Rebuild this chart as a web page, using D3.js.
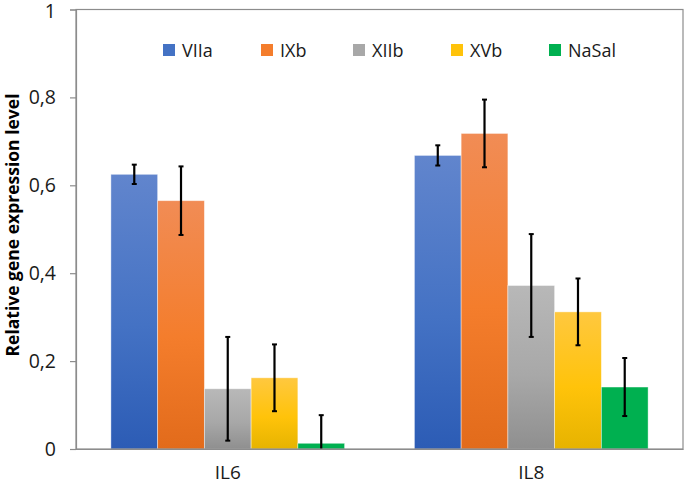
<!DOCTYPE html>
<html><head><meta charset="utf-8">
<script src="https://cdn.jsdelivr.net/npm/d3@7"></script>
<style>body{margin:0;background:#fff}svg{display:block}text{font-family:"Open Sans",sans-serif}</style>
</head><body><svg id="c" width="685" height="486"></svg>
<script>
const categories = ["IL6", "IL8"];
const seriesNames = ["VIIa", "IXb", "XIIb", "XVb", "NaSal"];
const VIIa = [0.625, 0.668];
const IXb = [0.565, 0.718];
const XIIb = [0.137, 0.372];
const XVb = [0.162, 0.312];
const NaSal = [0.013, 0.141];
const errVIIa = [0.022, 0.023];
const errIXb = [0.078, 0.077];
const errXIIb = [0.118, 0.117];
const errXVb = [0.076, 0.076];
const errNaSal = [0.064, 0.066];
const yTicks = [0, 0.2, 0.4, 0.6, 0.8, 1];
const colors = {
  VIIa: ["#6185cd", "#4472c4", "#2c5cb5"],
  IXb: ["#f18c55", "#f47d2c", "#e26b1b"],
  XIIb: ["#b8b8b8", "#a8a8a8", "#8f8f8f"],
  XVb: ["#ffc83f", "#ffc30a", "#e6b300"],
  NaSal: ["#00b050", "#00b050", "#00b050"]
};
const values = {VIIa, IXb, XIIb, XVb, NaSal};
const errs = {VIIa: errVIIa, IXb: errIXb, XIIb: errXIIb, XVb: errXVb, NaSal: errNaSal};

const svg = d3.select("#c");
const L = 76, R = 683, T = 9.5, B = 449;
const y = d3.scaleLinear().domain([0, 1]).range([B, T]);
const x0 = d3.scaleBand().domain(categories).range([L, R]).padding(0);
const step = x0.bandwidth();
const x1 = d3.scaleBand().domain(seriesNames).range([step * 0.115, step * 0.885]).padding(0);

const defs = svg.append("defs");
seriesNames.forEach(s => {
  const g = defs.append("linearGradient").attr("id", "g_" + s).attr("x1", 0).attr("y1", 0).attr("x2", 0).attr("y2", 1);
  g.append("stop").attr("offset", "0%").attr("stop-color", colors[s][0]);
  g.append("stop").attr("offset", "55%").attr("stop-color", colors[s][1]);
  g.append("stop").attr("offset", "100%").attr("stop-color", colors[s][2]);
});

// bars
const groups = svg.selectAll("g.cat").data(categories).enter().append("g")
  .attr("transform", d => `translate(${x0(d)},0)`);
groups.each(function(c, ci) {
  const g = d3.select(this);
  seriesNames.forEach(s => {
    const v = values[s][ci];
    g.append("rect").attr("x", x1(s)).attr("width", x1.bandwidth())
      .attr("y", y(v)).attr("height", y(0) - y(v))
      .attr("fill", `url(#g_${s})`).attr("stroke", "rgba(255,255,255,0.5)").attr("stroke-width", 0.8);
  });
});

// frame and axes
svg.append("rect").attr("x", L).attr("y", T).attr("width", R - L).attr("height", B - T)
  .attr("fill", "none").attr("stroke", "#8c8c8c").attr("stroke-width", 1.2);

const yAxis = d3.axisLeft(y).tickValues(yTicks).tickSize(6).tickPadding(14)
  .tickFormat(d => d === 0 || d === 1 ? String(d) : d3.format(".1f")(d).replace(".", ","));
const ya = svg.append("g").attr("transform", `translate(${L},0)`).call(yAxis);
ya.select(".domain").attr("stroke", "#8c8c8c").attr("stroke-width", 1.2);
ya.selectAll(".tick line").attr("stroke", "#8c8c8c").attr("stroke-width", 1.2);
ya.selectAll(".tick text").attr("font-size", 19.5).attr("fill", "#1a1a1a").attr("font-family", "'Open Sans',sans-serif");
ya.selectAll(".tick text").filter(d => d === 1).attr("y", 1.5);

const xAxis = d3.axisBottom(x0).tickSize(0).tickPadding(17);
const xa = svg.append("g").attr("transform", `translate(0,${B})`).call(xAxis);
xa.select(".domain").attr("stroke", "#8c8c8c").attr("stroke-width", 1.2);
xa.selectAll(".tick text").attr("font-size", 19).attr("fill", "#1a1a1a").attr("font-family", "'Open Sans',sans-serif");

// error bars
groups.each(function(c, ci) {
  const g = d3.select(this);
  seriesNames.forEach(s => {
    const v = values[s][ci], e = errs[s][ci];
    const cx = x1(s) + x1.bandwidth() / 2;
    const lo = Math.max(0, v - e), hi = v + e;
    g.append("line").attr("x1", cx).attr("x2", cx).attr("y1", y(lo)).attr("y2", y(hi))
      .attr("stroke", "#000").attr("stroke-width", 2.2);
    [hi, v - e].forEach(val => {
      if (val < 0) return;
      g.append("line").attr("x1", cx - 2.5).attr("x2", cx + 2.5).attr("y1", y(val)).attr("y2", y(val))
        .attr("stroke", "#000").attr("stroke-width", 2);
    });
  });
});

// y title
svg.append("text").attr("transform", `translate(19,225) rotate(-90)`)
  .attr("text-anchor", "middle").attr("font-weight", "bold").attr("font-size", 17.5)
  .attr("fill", "#000").text("Relative gene expression level");

// legend
const legX = [163, 261, 353, 451, 549];
const leg = svg.append("g");
seriesNames.forEach((s, i) => {
  leg.append("rect").attr("x", legX[i]).attr("y", 44).attr("width", 12).attr("height", 12)
    .attr("fill", colors[s][1]);
  leg.append("text").attr("x", legX[i] + 19).attr("y", 56.5).attr("font-size", 18)
    .attr("fill", "#1a1a1a").text(s);
});
</script></body></html>
